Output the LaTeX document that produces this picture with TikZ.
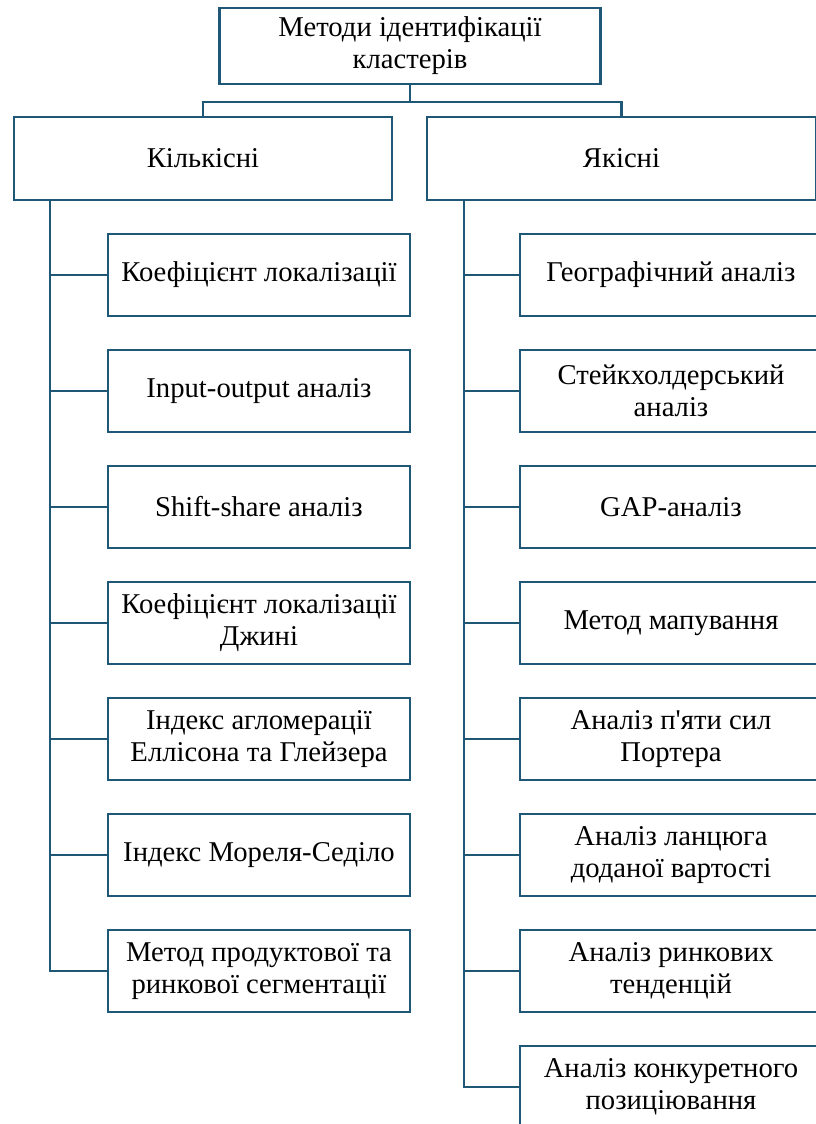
\documentclass[tikz,border=0pt]{standalone}
\usepackage{fontspec}
\setmainfont{Liberation Serif}
\usetikzlibrary{positioning,calc}
\definecolor{linecol}{RGB}{30,88,118}

\begin{document}
\begin{tikzpicture}[x=0.75pt, y=-0.75pt,
    box/.style={draw = linecol, line width = 1.8pt, rectangle,
        text = black, align = center, inner sep = 2pt,
        font = \fontsize{21.5}{24}\selectfont},
    item/.style={box, minimum width = 226.5pt, minimum height = 61.5pt},
    link/.style={draw = linecol, line width = 1.8pt}]

    \useasboundingbox (0,0) rectangle (816,1124);
    \clip (0,0) rectangle (816,1124);

    %top
    \node[box, minimum width = 285.75pt, minimum height = 57pt] (top) at (410,46) {Методи ідентифікації\\кластерів};

    %groups
    \node[box, minimum width = 283.5pt, minimum height = 62.25pt] (kil) at (203,158.5) {Кількісні};
    \node[box, minimum width = 291.75pt, minimum height = 62.25pt] (yak) at (621.5,158.5) {Якісні};

    %quantitative methods
    \node[item] (k1) at (259,275) {Коефіцієнт локалізації};
    \node[item, below = 23.7pt of k1] (k2) {Input-output аналіз};
    \node[item, below = 23.7pt of k2] (k3) {Shift-share аналіз};
    \node[item, below = 23.7pt of k3] (k4) {Коефіцієнт локалізації\\Джині};
    \node[item, below = 23.7pt of k4] (k5) {Індекс агломерації\\Еллісона та Глейзера};
    \node[item, below = 23.7pt of k5] (k6) {Індекс Мореля-Седіло};
    \node[item, below = 23.7pt of k6] (k7) {Метод продуктової та\\ринкової сегментації};

    %qualitative methods
    \node[item] (y1) at (671,275) {Географічний аналіз};
    \node[item, below = 23.7pt of y1] (y2) {Стейкхолдерський\\аналіз};
    \node[item, below = 23.7pt of y2] (y3) {GAP-аналіз};
    \node[item, below = 23.7pt of y3] (y4) {Метод мапування};
    \node[item, below = 23.7pt of y4] (y5) {Аналіз п\textquotesingle яти сил\\Портера};
    \node[item, below = 23.7pt of y5] (y6) {Аналіз ланцюга\\доданої вартості};
    \node[item, below = 23.7pt of y6] (y7) {Аналіз ринкових\\тенденцій};
    \node[item, below = 23.7pt of y7] (y8) {Аналіз конкуретного\\позиціювання};

    %trunks
    \coordinate (kt) at (kil.south -| 50,0);
    \coordinate (yt) at (yak.south -| 464,0);

    \path[link]
        (top.south) -- ++(0,17) -| (kil.north)
        (top.south) ++(0,17) -| (yak.north)
        (kt) |- (k7.west)
        (yt) |- (y8.west);

    \foreach \n in {1,...,6}
        \draw[link] (kt |- k\n.west) -- (k\n.west);
    \foreach \n in {1,...,7}
        \draw[link] (yt |- y\n.west) -- (y\n.west);

\end{tikzpicture}
\end{document}
